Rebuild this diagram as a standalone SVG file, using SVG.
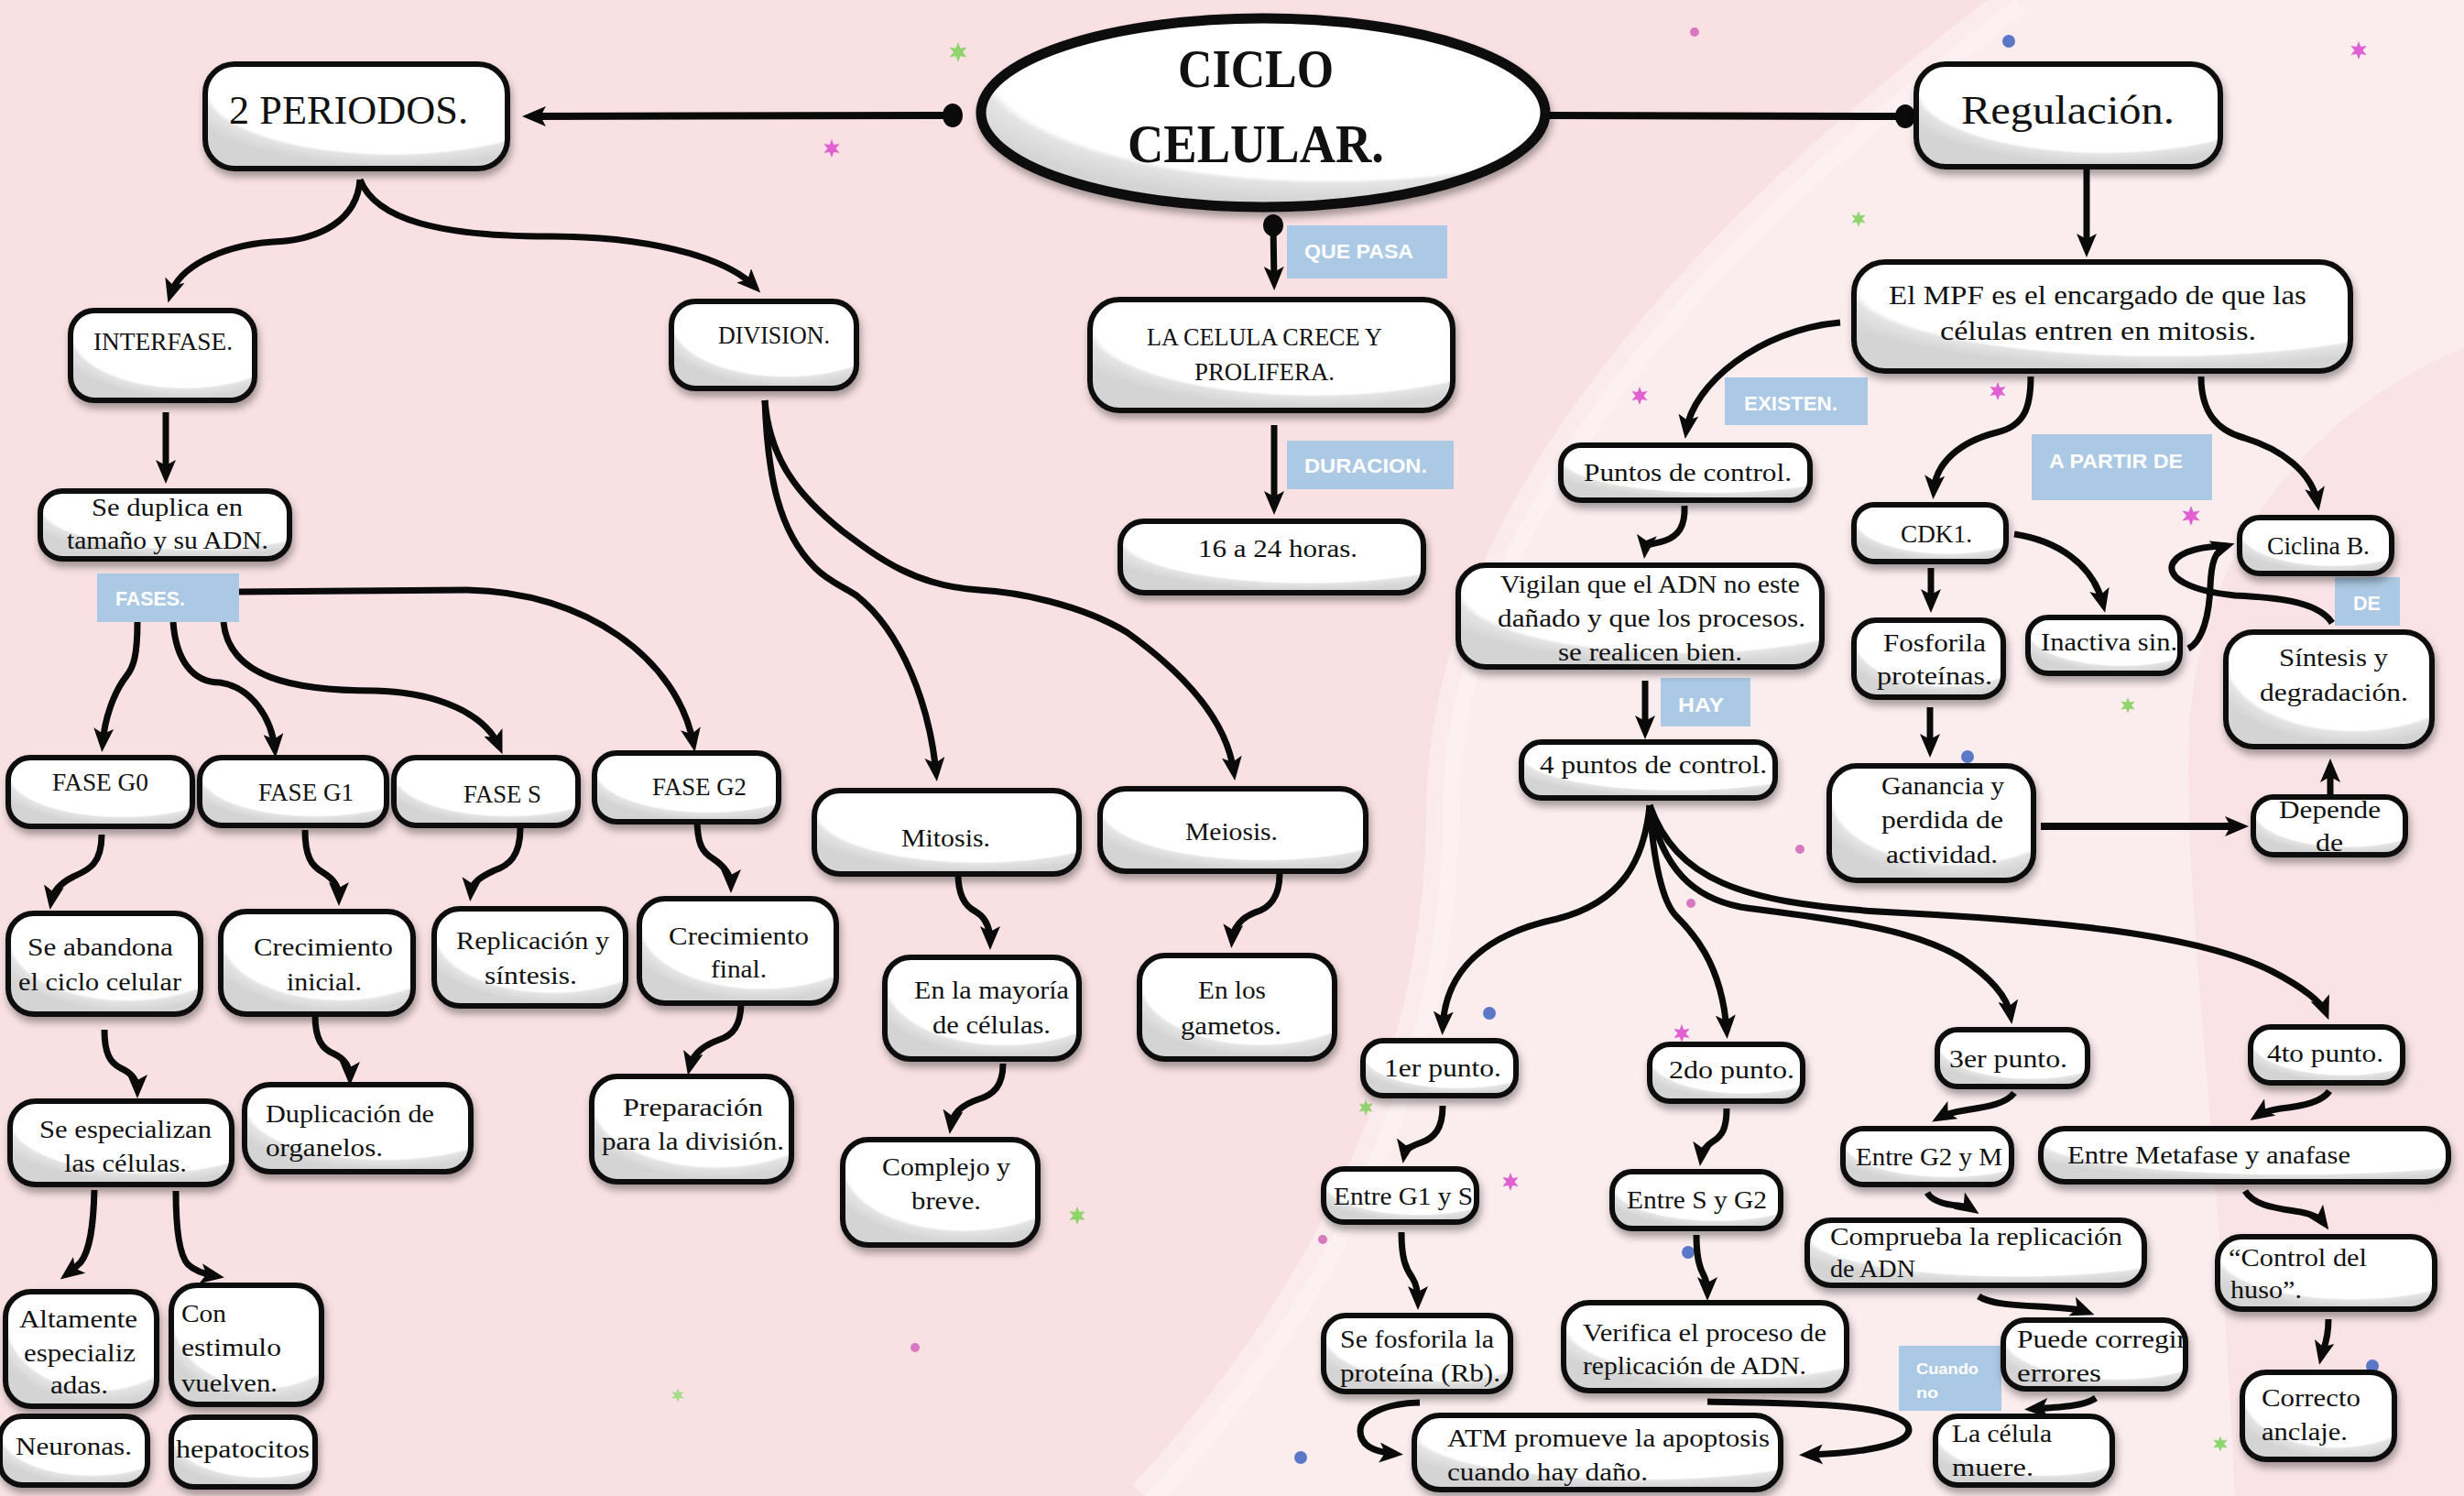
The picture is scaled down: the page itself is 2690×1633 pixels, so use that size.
<svg xmlns="http://www.w3.org/2000/svg" width="2690" height="1633" viewBox="0 0 2690 1633">
<defs>
<style>
.box{fill:url(#gl);stroke:#0d0d0d;stroke-width:6;filter:url(#sh)}
.t{font-family:"Liberation Serif","DejaVu Serif",serif;font-size:28px;fill:#111}
.big{font-size:45px}
.title{font-size:60px;font-weight:bold}
.lab{fill:#abc9e4}
.lt{font-family:"Liberation Sans","DejaVu Sans",sans-serif;font-weight:bold;font-size:22px;fill:#fff}
.c{fill:none;stroke:#0a0a0a;stroke-width:7;stroke-linecap:butt;stroke-linejoin:round}
.a{marker-end:url(#ah)}
.thick{stroke-width:8}
</style>
<radialGradient id="gl" cx="0.62" cy="0.25" r="0.72">
<stop offset="0" stop-color="#fff"/>
<stop offset="0.84" stop-color="#fff"/>
<stop offset="0.87" stop-color="#e4e4e4"/>
<stop offset="1" stop-color="#d4d4d4"/>
</radialGradient>
<filter id="sh" x="-10%" y="-10%" width="120%" height="140%">
<feDropShadow dx="2" dy="6" stdDeviation="4" flood-color="#000" flood-opacity="0.35"/>
</filter>
<marker id="ah" viewBox="0 0 26 22" refX="17" refY="11" markerWidth="26" markerHeight="22" markerUnits="userSpaceOnUse" orient="auto">
<path d="M0,0 L26,11 L0,22 L6,11 Z" fill="#0a0a0a"/>
</marker>
<path id="star" d="M0,-11 L2.5,-4.33 L9.53,-5.5 L5,0 L9.53,5.5 L2.5,4.33 L0,11 L-2.5,4.33 L-9.53,5.5 L-5,0 L-9.53,-5.5 L-2.5,-4.33 Z"/>
</defs>

<!-- background -->
<g id="background">
<rect width="2690" height="1633" fill="#f9e1e3"/>
<path d="M2200,0 C1800,300 1570,600 1575,900 C1570,1200 1420,1450 1250,1633 L2440,1633 C2420,1200 2385,1000 2390,800 C2400,600 2520,450 2690,380 L2690,0 Z" fill="#fbecee"/>
<path d="M2200,0 C1800,300 1570,600 1575,900 C1570,1200 1420,1450 1250,1633" fill="none" stroke="#fdf4f5" stroke-width="36" opacity="0.55"/>
<path d="M2690,380 C2520,450 2400,600 2390,800 C2385,1000 2420,1200 2440,1633 L2690,1633 Z" fill="#f9e3e6"/>
</g>

<!-- decorative stars and dots -->
<g id="decor">
<use href="#star" transform="translate(1046,57)" fill="#8fd46c"/>
<use href="#star" transform="translate(908,162) scale(0.9)" fill="#e060d2"/>
<use href="#star" transform="translate(2575,55) scale(0.9)" fill="#e060d2"/>
<use href="#star" transform="translate(2029,239) scale(0.8)" fill="#8fd46c"/>
<use href="#star" transform="translate(1790,432) scale(0.9)" fill="#e060d2"/>
<use href="#star" transform="translate(2181,427) scale(0.9)" fill="#e060d2"/>
<use href="#star" transform="translate(2392,563) scale(1)" fill="#e060d2"/>
<use href="#star" transform="translate(2323,770) scale(0.8)" fill="#8fd46c"/>
<use href="#star" transform="translate(1491,1209) scale(0.8)" fill="#8fd46c"/>
<use href="#star" transform="translate(1649,1290) scale(0.9)" fill="#e060d2"/>
<use href="#star" transform="translate(1176,1327) scale(0.9)" fill="#8fd46c"/>
<use href="#star" transform="translate(1836,1128) scale(0.9)" fill="#e060d2"/>
<use href="#star" transform="translate(2424,1576) scale(0.8)" fill="#8fd46c"/>
<use href="#star" transform="translate(740,1523) scale(0.7)" fill="#a8dc8c"/>
<circle cx="2193" cy="45" r="7" fill="#5b78c8"/>
<circle cx="1850" cy="35" r="5" fill="#d879c0"/>
<circle cx="2148" cy="826" r="7" fill="#5b78c8"/>
<circle cx="1965" cy="927" r="5" fill="#d879c0"/>
<circle cx="1846" cy="986" r="5" fill="#d879c0"/>
<circle cx="1444" cy="1353" r="5" fill="#d879c0"/>
<circle cx="999" cy="1471" r="5" fill="#d879c0"/>
<circle cx="1420" cy="1591" r="7" fill="#5b78c8"/>
<circle cx="1626" cy="1106" r="7" fill="#5b78c8"/>
<circle cx="1843" cy="1367" r="7" fill="#5b78c8"/>
<circle cx="2590" cy="1491" r="7" fill="#5b78c8"/>
</g>

<!-- connectors -->
<g id="connectors">
<path class="c thick a" d="M1040,126 L579,127"/>
<path class="c thick" d="M1689,126 L2080,127"/>
<path class="c a" d="M2278,182 L2278,272"/>
<path class="c a" d="M1390,246 L1391,308"/>
<path class="c a" d="M1391,464 L1391,553"/>
<ellipse cx="1040" cy="126" rx="11" ry="13" fill="#0a0a0a"/>
<ellipse cx="2080" cy="127" rx="11" ry="13" fill="#0a0a0a"/>
<ellipse cx="1390" cy="246" rx="11" ry="12" fill="#0a0a0a"/>
<path class="c a" d="M393,196 C390,240 350,262 298,264 C240,268 195,292 186,322"/>
<path class="c a" d="M393,196 C410,240 480,258 600,258 C700,258 790,278 824,313"/>
<path class="c a" d="M181,450 L181,519"/>
<path class="c a" d="M835,437 C838,520 850,580 890,620 C905,635 920,640 935,650 C985,690 1015,770 1022,844"/>
<path class="c a" d="M835,437 C840,500 870,540 920,580 C960,610 1000,640 1069,644 C1110,646 1180,660 1230,690 C1300,740 1340,790 1347,843"/>
<path class="c a" d="M150,679 C150,715 146,728 138,738 C124,756 114,785 112,812"/>
<path class="c a" d="M189,679 C192,720 210,745 240,745 C275,750 297,785 300,818"/>
<path class="c a" d="M244,679 C250,740 320,754 410,754 C480,756 530,780 545,815"/>
<path class="c a" d="M261,646 L510,644 C640,646 740,720 757,812"/>
<path class="c a" d="M111,911 C111,945 95,950 80,957 C66,964 58,972 56,984"/>
<path class="c a" d="M333,906 C333,935 340,945 352,952 C365,960 370,968 370,980"/>
<path class="c a" d="M568,904 C568,935 555,945 540,950 C525,957 515,963 514,975"/>
<path class="c a" d="M761,892 C761,920 766,930 778,937 C790,945 798,955 798,966"/>
<path class="c a" d="M114,1124 C114,1150 120,1160 132,1166 C145,1172 150,1180 150,1190"/>
<path class="c a" d="M344,1108 C344,1135 352,1145 364,1150 C377,1156 382,1165 382,1176"/>
<path class="c a" d="M809,1094 C809,1120 800,1130 785,1135 C765,1142 756,1152 753,1165"/>
<path class="c a" d="M103,1299 C102,1340 98,1365 88,1378 C82,1384 77,1388 73,1391"/>
<path class="c a" d="M192,1300 C192,1340 196,1370 205,1380 C213,1388 224,1391 236,1393"/>
<path class="c a" d="M1046,954 C1046,980 1055,990 1065,995 C1077,1002 1081,1015 1081,1028"/>
<path class="c a" d="M1397,954 C1397,980 1385,992 1370,996 C1355,1002 1346,1013 1345,1026"/>
<path class="c a" d="M1095,1161 C1095,1185 1085,1195 1068,1200 C1050,1206 1040,1215 1038,1229"/>
<path class="c a" d="M2009,352 C1920,360 1848,420 1841,470"/>
<path class="c a" d="M2217,411 C2217,445 2210,465 2180,472 C2140,482 2113,505 2111,536"/>
<path class="c a" d="M2403,411 C2403,450 2420,470 2450,478 C2490,490 2524,515 2530,549"/>
<path class="c a" d="M1839,552 C1840,575 1832,585 1818,590 C1804,595 1797,592 1796,601"/>
<path class="c a" d="M1796,743 L1796,798"/>
<path class="c a" d="M2108,620 L2108,660"/>
<path class="c a" d="M2199,583 C2245,590 2285,615 2296,660"/>
<path class="c a" d="M2107,772 L2107,818"/>
<path class="c thick a" d="M2228,902 L2446,902"/>
<path class="c a" d="M2544,868 L2544,837"/>
<path class="c a" d="M2389,708 C2405,700 2412,670 2413,640 C2414,615 2418,600 2431,596"/>
<path class="c" d="M2546,680 C2530,655 2480,652 2440,650 C2390,645 2365,630 2372,615 C2380,600 2410,596 2431,596"/>
<path class="c a" d="M1801,879 C1795,940 1770,985 1700,1003 C1620,1020 1578,1060 1575,1121"/>
<path class="c a" d="M1801,879 C1805,940 1815,985 1830,1000 C1845,1015 1880,1050 1885,1125"/>
<path class="c a" d="M1801,879 C1815,950 1850,980 1900,990 C1990,1003 2080,1010 2140,1045 C2175,1068 2192,1090 2195,1109"/>
<path class="c a" d="M1801,879 C1830,960 1900,985 2050,995 C2250,1005 2400,1020 2480,1060 C2515,1078 2535,1095 2539,1105"/>
<path class="c a" d="M1575,1207 C1575,1232 1566,1242 1552,1247 C1540,1251 1534,1255 1533,1261"/>
<path class="c a" d="M1530,1345 C1530,1375 1535,1385 1542,1395 C1547,1403 1548,1412 1548,1421"/>
<path class="c a" d="M1550,1531 C1510,1532 1485,1545 1485,1562 C1485,1578 1500,1585 1523,1587"/>
<path class="c a" d="M1885,1210 C1885,1232 1880,1240 1870,1246 C1862,1251 1858,1256 1857,1264"/>
<path class="c a" d="M1852,1348 C1852,1375 1856,1385 1860,1392 C1863,1398 1864,1405 1864,1411"/>
<path class="c a" d="M1864,1530 C1950,1532 2060,1530 2082,1555 C2095,1575 2040,1586 1973,1588"/>
<path class="c a" d="M2199,1193 C2190,1205 2170,1208 2145,1212 C2132,1214 2124,1216 2117,1220"/>
<path class="c a" d="M2104,1302 C2110,1312 2125,1315 2138,1316 C2145,1317 2150,1318 2153,1320"/>
<path class="c a" d="M2160,1415 C2175,1425 2210,1425 2240,1427 C2258,1428 2270,1429 2278,1432"/>
<path class="c a" d="M2288,1526 C2275,1535 2250,1536 2219,1538"/>
<path class="c a" d="M2543,1191 C2535,1203 2515,1207 2490,1210 C2478,1212 2470,1214 2464,1218"/>
<path class="c a" d="M2451,1300 C2460,1315 2480,1318 2505,1322 C2520,1324 2532,1328 2537,1335"/>
<path class="c a" d="M2542,1440 C2542,1465 2536,1472 2534,1481"/>
</g>

<!-- link labels -->
<g id="labels">
<g id="lab-quepasa"><rect class="lab" x="1405" y="246" width="175" height="58"/><text class="lt" x="1424" y="282" textLength="119" lengthAdjust="spacingAndGlyphs">QUE PASA</text></g>
<g id="lab-duracion"><rect class="lab" x="1405" y="481" width="182" height="53"/><text class="lt" x="1424" y="516" textLength="134" lengthAdjust="spacingAndGlyphs">DURACION.</text></g>
<g id="lab-fases"><rect class="lab" x="106" y="626" width="155" height="53"/><text class="lt" x="126" y="661" textLength="76" lengthAdjust="spacingAndGlyphs">FASES.</text></g>
<g id="lab-existen"><rect class="lab" x="1883" y="412" width="156" height="52"/><text class="lt" x="1904" y="448" textLength="102" lengthAdjust="spacingAndGlyphs">EXISTEN.</text></g>
<g id="lab-apartir"><rect class="lab" x="2218" y="474" width="197" height="72"/><text class="lt" x="2237" y="511" textLength="146" lengthAdjust="spacingAndGlyphs">A PARTIR DE</text></g>
<g id="lab-hay"><rect class="lab" x="1813" y="740" width="98" height="53"/><text class="lt" x="1832" y="777" textLength="50" lengthAdjust="spacingAndGlyphs">HAY</text></g>
<g id="lab-de"><rect class="lab" x="2549" y="630" width="71" height="53"/><text class="lt" x="2569" y="666" textLength="30" lengthAdjust="spacingAndGlyphs">DE</text></g>
<g id="lab-cuando"><rect class="lab" x="2073" y="1469" width="112" height="71"/><text class="lt" style="font-size:16px" x="2092" y="1500" textLength="68" lengthAdjust="spacingAndGlyphs">Cuando</text><text class="lt" style="font-size:16px" x="2092" y="1526" textLength="24" lengthAdjust="spacingAndGlyphs">no</text></g>
</g>

<!-- nodes -->
<g id="nodes">
<g id="n-ciclo"><ellipse class="box" cx="1379" cy="123" rx="308" ry="103" style="stroke-width:11"/>
<text class="t title" x="1286" y="95" textLength="170" lengthAdjust="spacingAndGlyphs">CICLO</text>
<text class="t title" x="1231" y="177" textLength="280" lengthAdjust="spacingAndGlyphs">CELULAR.</text></g>

<g id="n-periodos"><rect class="box" x="224" y="70" width="330" height="114" rx="32"/>
<text class="t big" x="250" y="135" textLength="261" lengthAdjust="spacingAndGlyphs">2 PERIODOS.</text></g>

<g id="n-regulacion"><rect class="box" x="2092" y="70" width="332" height="112" rx="32"/>
<text class="t big" x="2141" y="135" textLength="233" lengthAdjust="spacingAndGlyphs">Regulación.</text></g>

<g id="n-mpf"><rect class="box" x="2024" y="286" width="542" height="119" rx="34"/>
<text class="t" style="font-size:30px" x="2062" y="332" textLength="456" lengthAdjust="spacingAndGlyphs">El MPF es el encargado de que las</text>
<text class="t" style="font-size:30px" x="2118" y="371" textLength="345" lengthAdjust="spacingAndGlyphs">células entren en mitosis.</text></g>

<g id="n-celula"><rect class="box" x="1190" y="327" width="396" height="121" rx="32"/>
<text class="t" x="1252" y="377" textLength="257" lengthAdjust="spacingAndGlyphs">LA CELULA CRECE Y</text>
<text class="t" x="1304" y="415" textLength="153" lengthAdjust="spacingAndGlyphs">PROLIFERA.</text></g>

<g id="n-horas"><rect class="box" x="1223" y="569" width="331" height="78" rx="26"/>
<text class="t" x="1308" y="608" textLength="174" lengthAdjust="spacingAndGlyphs">16 a 24 horas.</text></g>

<g id="n-interfase"><rect class="box" x="77" y="339" width="201" height="98" rx="26"/>
<text class="t" x="102" y="382" textLength="152" lengthAdjust="spacingAndGlyphs">INTERFASE.</text></g>

<g id="n-division"><rect class="box" x="733" y="329" width="202" height="95" rx="26"/>
<text class="t" x="784" y="375" textLength="122" lengthAdjust="spacingAndGlyphs">DIVISION.</text></g>

<g id="n-duplica"><rect class="box" x="44" y="536" width="272" height="74" rx="24"/>
<text class="t" x="100" y="563" textLength="165" lengthAdjust="spacingAndGlyphs">Se duplica en</text>
<text class="t" x="73" y="599" textLength="220" lengthAdjust="spacingAndGlyphs">tamaño y su ADN.</text></g>

<g id="n-g0"><rect class="box" x="9" y="827" width="201" height="75" rx="24"/>
<text class="t" x="57" y="863" textLength="105" lengthAdjust="spacingAndGlyphs">FASE G0</text></g>
<g id="n-g1"><rect class="box" x="218" y="827" width="204" height="74" rx="24"/>
<text class="t" x="282" y="874" textLength="104" lengthAdjust="spacingAndGlyphs">FASE G1</text></g>
<g id="n-s"><rect class="box" x="430" y="827" width="201" height="74" rx="24"/>
<text class="t" x="506" y="876" textLength="85" lengthAdjust="spacingAndGlyphs">FASE S</text></g>
<g id="n-g2"><rect class="box" x="649" y="822" width="201" height="75" rx="24"/>
<text class="t" x="712" y="868" textLength="103" lengthAdjust="spacingAndGlyphs">FASE G2</text></g>

<g id="n-abandona"><rect class="box" x="9" y="997" width="210" height="110" rx="28"/>
<text class="t" x="30" y="1043" textLength="159" lengthAdjust="spacingAndGlyphs">Se abandona</text>
<text class="t" x="20" y="1081" textLength="178" lengthAdjust="spacingAndGlyphs">el ciclo celular</text></g>
<g id="n-crecini"><rect class="box" x="241" y="995" width="210" height="112" rx="28"/>
<text class="t" x="277" y="1043" textLength="152" lengthAdjust="spacingAndGlyphs">Crecimiento</text>
<text class="t" x="313" y="1081" textLength="82" lengthAdjust="spacingAndGlyphs">inicial.</text></g>
<g id="n-replica"><rect class="box" x="474" y="992" width="209" height="106" rx="28"/>
<text class="t" x="498" y="1036" textLength="167" lengthAdjust="spacingAndGlyphs">Replicación y</text>
<text class="t" x="529" y="1074" textLength="101" lengthAdjust="spacingAndGlyphs">síntesis.</text></g>
<g id="n-crecfin"><rect class="box" x="698" y="981" width="215" height="114" rx="28"/>
<text class="t" x="730" y="1031" textLength="153" lengthAdjust="spacingAndGlyphs">Crecimiento</text>
<text class="t" x="776" y="1067" textLength="61" lengthAdjust="spacingAndGlyphs">final.</text></g>

<g id="n-especializan"><rect class="box" x="11" y="1202" width="242" height="91" rx="28"/>
<text class="t" x="43" y="1242" textLength="188" lengthAdjust="spacingAndGlyphs">Se especializan</text>
<text class="t" x="70" y="1279" textLength="134" lengthAdjust="spacingAndGlyphs">las células.</text></g>
<g id="n-organelos"><rect class="box" x="267" y="1184" width="247" height="95" rx="28"/>
<text class="t" x="290" y="1225" textLength="184" lengthAdjust="spacingAndGlyphs">Duplicación de</text>
<text class="t" x="290" y="1262" textLength="128" lengthAdjust="spacingAndGlyphs">organelos.</text></g>
<g id="n-prepara"><rect class="box" x="646" y="1175" width="218" height="115" rx="28"/>
<text class="t" x="680" y="1218" textLength="153" lengthAdjust="spacingAndGlyphs">Preparación</text>
<text class="t" x="657" y="1255" textLength="199" lengthAdjust="spacingAndGlyphs">para la división.</text></g>

<g id="n-altamente"><rect class="box" x="6" y="1410" width="165" height="125" rx="28"/>
<text class="t" x="21" y="1449" textLength="129" lengthAdjust="spacingAndGlyphs">Altamente</text>
<text class="t" x="26" y="1486" textLength="122" lengthAdjust="spacingAndGlyphs">especializ</text>
<text class="t" x="55" y="1521" textLength="63" lengthAdjust="spacingAndGlyphs">adas.</text></g>
<g id="n-estimulo"><rect class="box" x="187" y="1403" width="164" height="130" rx="28"/>
<text class="t" x="198" y="1443" textLength="49" lengthAdjust="spacingAndGlyphs">Con</text>
<text class="t" x="198" y="1480" textLength="109" lengthAdjust="spacingAndGlyphs">estimulo</text>
<text class="t" x="198" y="1519" textLength="105" lengthAdjust="spacingAndGlyphs">vuelven.</text></g>
<g id="n-neuronas"><rect class="box" x="0" y="1546" width="161" height="75" rx="24"/>
<text class="t" x="17" y="1588" textLength="127" lengthAdjust="spacingAndGlyphs">Neuronas.</text></g>
<g id="n-hepato"><rect class="box" x="187" y="1547" width="157" height="76" rx="24"/>
<text class="t" x="192" y="1591" textLength="146" lengthAdjust="spacingAndGlyphs">hepatocitos</text></g>

<g id="n-mitosis"><rect class="box" x="889" y="863" width="289" height="91" rx="28"/>
<text class="t" x="984" y="924" textLength="97" lengthAdjust="spacingAndGlyphs">Mitosis.</text></g>
<g id="n-meiosis"><rect class="box" x="1201" y="861" width="290" height="90" rx="28"/>
<text class="t" x="1294" y="917" textLength="101" lengthAdjust="spacingAndGlyphs">Meiosis.</text></g>
<g id="n-mayoria"><rect class="box" x="966" y="1045" width="212" height="111" rx="28"/>
<text class="t" x="998" y="1090" textLength="169" lengthAdjust="spacingAndGlyphs">En la mayoría</text>
<text class="t" x="1018" y="1128" textLength="129" lengthAdjust="spacingAndGlyphs">de células.</text></g>
<g id="n-gametos"><rect class="box" x="1244" y="1043" width="213" height="113" rx="28"/>
<text class="t" x="1308" y="1090" textLength="74" lengthAdjust="spacingAndGlyphs">En los</text>
<text class="t" x="1289" y="1129" textLength="110" lengthAdjust="spacingAndGlyphs">gametos.</text></g>
<g id="n-complejo"><rect class="box" x="920" y="1244" width="213" height="115" rx="28"/>
<text class="t" x="963" y="1283" textLength="140" lengthAdjust="spacingAndGlyphs">Complejo y</text>
<text class="t" x="995" y="1320" textLength="76" lengthAdjust="spacingAndGlyphs">breve.</text></g>

<g id="n-puntos"><rect class="box" x="1704" y="486" width="272" height="60" rx="22"/>
<text class="t" x="1729" y="525" textLength="227" lengthAdjust="spacingAndGlyphs">Puntos de control.</text></g>
<g id="n-vigilan"><rect class="box" x="1592" y="617" width="397" height="111" rx="30"/>
<text class="t" x="1638" y="647" textLength="327" lengthAdjust="spacingAndGlyphs">Vigilan que el ADN no este</text>
<text class="t" x="1635" y="684" textLength="336" lengthAdjust="spacingAndGlyphs">dañado y que los procesos.</text>
<text class="t" x="1701" y="721" textLength="201" lengthAdjust="spacingAndGlyphs">se realicen bien.</text></g>
<g id="n-cuatro"><rect class="box" x="1661" y="810" width="277" height="61" rx="22"/>
<text class="t" x="1681" y="844" textLength="248" lengthAdjust="spacingAndGlyphs">4 puntos de control.</text></g>

<g id="n-cdk1"><rect class="box" x="2024" y="551" width="166" height="62" rx="22"/>
<text class="t" x="2075" y="592" textLength="78" lengthAdjust="spacingAndGlyphs">CDK1.</text></g>
<g id="n-ciclina"><rect class="box" x="2445" y="565" width="166" height="61" rx="22"/>
<text class="t" x="2475" y="605" textLength="112" lengthAdjust="spacingAndGlyphs">Ciclina B.</text></g>
<g id="n-fosforila"><rect class="box" x="2024" y="677" width="163" height="84" rx="24"/>
<text class="t" x="2056" y="711" textLength="112" lengthAdjust="spacingAndGlyphs">Fosforila</text>
<text class="t" x="2049" y="747" textLength="126" lengthAdjust="spacingAndGlyphs">proteínas.</text></g>
<g id="n-inactiva"><rect class="box" x="2214" y="674" width="166" height="61" rx="22"/>
<text class="t" x="2228" y="710" textLength="149" lengthAdjust="spacingAndGlyphs">Inactiva sin.</text></g>
<g id="n-sintesis"><rect class="box" x="2430" y="690" width="225" height="125" rx="30"/>
<text class="t" x="2488" y="727" textLength="119" lengthAdjust="spacingAndGlyphs">Síntesis y</text>
<text class="t" x="2467" y="765" textLength="162" lengthAdjust="spacingAndGlyphs">degradación.</text></g>
<g id="n-ganancia"><rect class="box" x="1997" y="836" width="223" height="125" rx="30"/>
<text class="t" x="2054" y="867" textLength="134" lengthAdjust="spacingAndGlyphs">Ganancia y</text>
<text class="t" x="2054" y="904" textLength="133" lengthAdjust="spacingAndGlyphs">perdida de</text>
<text class="t" x="2059" y="942" textLength="122" lengthAdjust="spacingAndGlyphs">actividad.</text></g>
<g id="n-depende"><rect class="box" x="2460" y="870" width="166" height="63" rx="22"/>
<text class="t" x="2488" y="893" textLength="111" lengthAdjust="spacingAndGlyphs">Depende</text>
<text class="t" x="2528" y="929" textLength="30" lengthAdjust="spacingAndGlyphs">de</text></g>

<g id="n-p1"><rect class="box" x="1488" y="1136" width="167" height="60" rx="22"/>
<text class="t" x="1511" y="1175" textLength="128" lengthAdjust="spacingAndGlyphs">1er punto.</text></g>
<g id="n-g1s"><rect class="box" x="1445" y="1276" width="167" height="58" rx="22"/>
<text class="t" x="1456" y="1315" textLength="152" lengthAdjust="spacingAndGlyphs">Entre G1 y S</text></g>
<g id="n-rb"><rect class="box" x="1445" y="1436" width="204" height="83" rx="24"/>
<text class="t" x="1463" y="1471" textLength="168" lengthAdjust="spacingAndGlyphs">Se fosforila la</text>
<text class="t" x="1463" y="1508" textLength="175" lengthAdjust="spacingAndGlyphs">proteína (Rb).</text></g>
<g id="n-atm"><rect class="box" x="1544" y="1545" width="400" height="81" rx="28"/>
<text class="t" x="1580" y="1579" textLength="352" lengthAdjust="spacingAndGlyphs">ATM promueve la apoptosis</text>
<text class="t" x="1580" y="1616" textLength="219" lengthAdjust="spacingAndGlyphs">cuando hay daño.</text></g>

<g id="n-p2"><rect class="box" x="1801" y="1140" width="167" height="62" rx="22"/>
<text class="t" x="1822" y="1177" textLength="137" lengthAdjust="spacingAndGlyphs">2do punto.</text></g>
<g id="n-sg2"><rect class="box" x="1760" y="1279" width="184" height="62" rx="22"/>
<text class="t" x="1776" y="1319" textLength="153" lengthAdjust="spacingAndGlyphs">Entre S y G2</text></g>
<g id="n-verifica"><rect class="box" x="1707" y="1422" width="309" height="96" rx="28"/>
<text class="t" x="1728" y="1464" textLength="266" lengthAdjust="spacingAndGlyphs">Verifica el proceso de</text>
<text class="t" x="1728" y="1500" textLength="244" lengthAdjust="spacingAndGlyphs">replicación de ADN.</text></g>

<g id="n-p3"><rect class="box" x="2115" y="1124" width="164" height="62" rx="22"/>
<text class="t" x="2128" y="1165" textLength="129" lengthAdjust="spacingAndGlyphs">3er punto.</text></g>
<g id="n-g2m"><rect class="box" x="2012" y="1232" width="184" height="61" rx="22"/>
<text class="t" x="2026" y="1272" textLength="160" lengthAdjust="spacingAndGlyphs">Entre G2 y M</text></g>
<g id="n-comprueba"><rect class="box" x="1973" y="1332" width="368" height="71" rx="26"/>
<text class="t" x="1998" y="1359" textLength="319" lengthAdjust="spacingAndGlyphs">Comprueba la replicación</text>
<text class="t" x="1998" y="1394" textLength="93" lengthAdjust="spacingAndGlyphs">de ADN</text></g>
<g id="n-puede"><rect class="box" x="2187" y="1441" width="199" height="75" rx="24"/>
<text class="t" x="2202" y="1471" textLength="185" lengthAdjust="spacingAndGlyphs">Puede corregir</text>
<text class="t" x="2202" y="1508" textLength="92" lengthAdjust="spacingAndGlyphs">errores</text></g>
<g id="n-muere"><rect class="box" x="2113" y="1546" width="193" height="75" rx="24"/>
<text class="t" x="2131" y="1574" textLength="109" lengthAdjust="spacingAndGlyphs">La célula</text>
<text class="t" x="2131" y="1611" textLength="89" lengthAdjust="spacingAndGlyphs">muere.</text></g>

<g id="n-p4"><rect class="box" x="2457" y="1121" width="166" height="61" rx="22"/>
<text class="t" x="2475" y="1159" textLength="127" lengthAdjust="spacingAndGlyphs">4to punto.</text></g>
<g id="n-metafase"><rect class="box" x="2228" y="1232" width="445" height="58" rx="26"/>
<text class="t" x="2257" y="1270" textLength="309" lengthAdjust="spacingAndGlyphs">Entre Metafase y anafase</text></g>
<g id="n-control"><rect class="box" x="2421" y="1350" width="237" height="79" rx="26"/>
<text class="t" x="2433" y="1382" textLength="151" lengthAdjust="spacingAndGlyphs">“Control del</text>
<text class="t" x="2435" y="1417" textLength="78" lengthAdjust="spacingAndGlyphs">huso”.</text></g>
<g id="n-correcto"><rect class="box" x="2448" y="1498" width="166" height="95" rx="26"/>
<text class="t" x="2469" y="1535" textLength="108" lengthAdjust="spacingAndGlyphs">Correcto</text>
<text class="t" x="2469" y="1572" textLength="94" lengthAdjust="spacingAndGlyphs">anclaje.</text></g>
</g>
</svg>
